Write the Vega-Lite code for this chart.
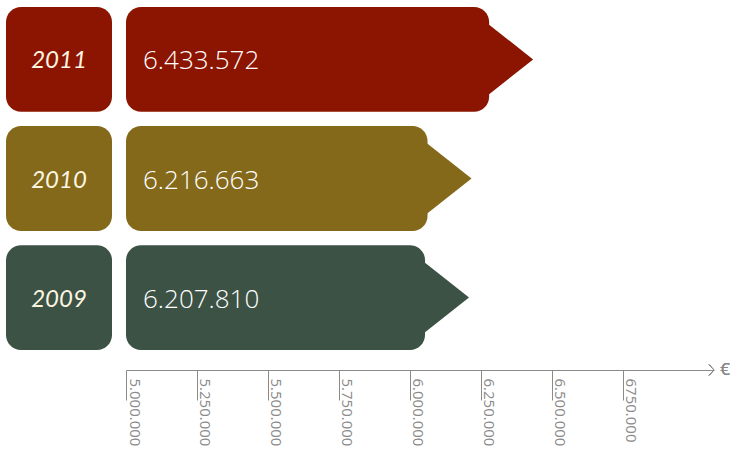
{
  "$schema": "https://vega.github.io/schema/vega-lite/v6.json",
  "padding": {"left": 6, "top": 0, "right": 0, "bottom": 0},
  "spacing": 13,
  "data": {"values": [
    {"year": "2011", "value": 6433572},
    {"year": "2010", "value": 6216663},
    {"year": "2009", "value": 6207810}
  ]},
  "config": {
    "view": {"stroke": null},
    "locale": {"number": {"decimal": ",", "thousands": ".", "grouping": [3], "currency": ["", " €"]}},
    "font": "Open Sans"
  },
  "hconcat": [
    {
      "width": 106,
      "height": 370,
      "layer": [
        {
          "mark": {"type": "rect", "cornerRadius": 15},
          "encoding": {
            "y": {"field": "year", "type": "nominal", "axis": null,
                  "scale": {"domain": ["2011", "2010", "2009"], "range": [7, 350], "paddingInner": 0.12, "paddingOuter": 0}},
            "color": {"field": "year", "type": "nominal", "legend": null,
                      "scale": {"domain": ["2011", "2010", "2009"], "range": ["#8b1500", "#84691b", "#3c5245"]}}
          }
        },
        {
          "mark": {"type": "text", "font": "Lato", "fontStyle": "italic", "fontWeight": 400, "fontSize": 24, "color": "#fdf5e0", "align": "center", "baseline": "middle", "dy": 2},
          "encoding": {
            "y": {"field": "year", "type": "nominal", "axis": null,
                  "scale": {"domain": ["2011", "2010", "2009"], "range": [7, 350], "paddingInner": 0.12, "paddingOuter": 0}},
            "text": {"field": "year", "type": "nominal"}
          }
        }
      ]
    },
    {
      "width": 588,
      "height": 370,
      "layer": [
        {
          "mark": {"type": "bar", "cornerRadius": 15, "xOffset": -44},
          "encoding": {
            "x": {"field": "value", "type": "quantitative",
                  "scale": {"domain": [5000000, 7070423], "nice": false, "zero": false},
                  "axis": {
                    "values": [5000000, 5250000, 5500000, 5750000, 6000000, 6250000, 6500000, 6750000],
                    "format": ",d",
                    "labelExpr": "datum.value == 6750000 ? '6750.000' : datum.label",
                    "title": null, "grid": false,
                    "domain": true, "domainColor": "#8a8a8a", "domainWidth": 1,
                    "ticks": true, "tickSize": 30, "tickColor": "#8a8a8a", "tickWidth": 1,
                    "labelAngle": 90, "labelAlign": "left", "labelBaseline": "middle",
                    "labelPadding": -22, "labelOffset": 8,
                    "labelFont": "Open Sans", "labelFontSize": 15, "labelColor": "#8a8a8a",
                    "labelFlush": false, "labelOverlap": false, "labelBound": false
                  }},
            "x2": {"datum": 5000000},
            "y": {"field": "year", "type": "nominal", "axis": null,
                  "scale": {"domain": ["2011", "2010", "2009"], "range": [7, 350], "paddingInner": 0.12, "paddingOuter": 0}},
            "color": {"field": "year", "type": "nominal", "legend": null,
                      "scale": {"domain": ["2011", "2010", "2009"], "range": ["#8b1500", "#84691b", "#3c5245"]}}
          }
        },
        {
          "mark": {"type": "point", "shape": "M 0 0 L -1 -0.79 L -1.3 -0.79 L -1.3 0.79 L -1 0.79 Z", "size": 7744, "filled": true, "opacity": 1, "strokeWidth": 0},
          "encoding": {
            "x": {"field": "value", "type": "quantitative"},
            "y": {"field": "year", "type": "nominal"},
            "color": {"field": "year", "type": "nominal", "legend": null}
          }
        },
        {
          "mark": {"type": "text", "align": "left", "baseline": "middle", "dx": 17, "dy": 2, "fontSize": 26, "fontWeight": 300, "font": "Open Sans", "color": "#ffffff"},
          "encoding": {
            "x": {"datum": 5000000},
            "y": {"field": "year", "type": "nominal"},
            "text": {"field": "value", "type": "quantitative", "format": ",d"}
          }
        },
        {
          "mark": {"type": "point", "shape": "M -1 -1.1 L 0 0 L -1 1.1", "size": 100, "filled": false, "stroke": "#8a8a8a", "strokeWidth": 1, "opacity": 1, "y": "height"},
          "encoding": {
            "x": {"datum": 7070423}
          }
        },
        {
          "mark": {"type": "text", "text": "€", "align": "center", "baseline": "middle", "dx": 11, "fontSize": 17, "color": "#8a8a8a", "font": "Open Sans", "y": "height"},
          "encoding": {
            "x": {"datum": 7070423}
          }
        }
      ]
    }
  ]
}
